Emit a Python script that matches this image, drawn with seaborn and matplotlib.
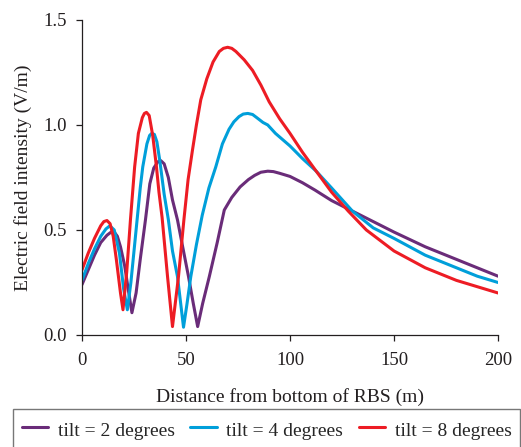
import numpy as np
import pandas as pd
import matplotlib
matplotlib.use("Agg")
import matplotlib.pyplot as plt
import seaborn as sns

# --- data ---
x_tilt2 = [0, 3, 6, 9, 12, 14, 15.5, 17, 18.5, 20.5, 22.5, 24, 26, 28, 30.5, 32.6, 34.5,
           36.5, 37.9, 39.5, 41.5, 43.5, 45.9, 48, 51.2, 53.5, 55.6, 58, 61.2, 65, 68.4,
           72, 76, 80, 83, 86, 89.3, 92, 95, 100, 106, 112, 120, 130, 140, 150, 165, 180,
           190, 200]
y_tilt2 = [0.24, 0.31, 0.38, 0.44, 0.475, 0.49, 0.49, 0.47, 0.42, 0.33, 0.20, 0.106, 0.20,
           0.36, 0.548, 0.72, 0.795, 0.825, 0.83, 0.815, 0.75, 0.643, 0.548, 0.44, 0.278,
           0.15, 0.04, 0.15, 0.278, 0.44, 0.595, 0.655, 0.705, 0.74, 0.76, 0.775, 0.78,
           0.778, 0.77, 0.755, 0.725, 0.69, 0.64, 0.59, 0.54, 0.49, 0.42, 0.36, 0.32, 0.28]

x_tilt4 = [0, 3, 6, 9, 11.5, 13.4, 15.5, 18, 20, 21.8, 23.5, 25, 26.5, 28, 29.2, 31.2,
           32.5, 33.5, 34.8, 36, 37.4, 39.5, 41.5, 43.5, 45.9, 48.8, 50.5, 52.3, 55, 57.8,
           61, 64.3, 67.5, 70.7, 73, 75.5, 77.5, 79.7, 82, 84, 87, 89.3, 93, 100, 106,
           112.6, 120, 130, 140, 150, 165, 180, 190, 200]
y_tilt4 = [0.26, 0.34, 0.41, 0.47, 0.505, 0.52, 0.50, 0.39, 0.22, 0.12, 0.25, 0.40, 0.55,
           0.70, 0.80, 0.91, 0.95, 0.96, 0.955, 0.92, 0.83, 0.67, 0.55, 0.40, 0.278,
           0.037, 0.15, 0.278, 0.43, 0.57, 0.70, 0.80, 0.91, 0.98, 1.015, 1.04, 1.052,
           1.055, 1.05, 1.035, 1.012, 1.00, 0.96, 0.90, 0.84, 0.78, 0.70, 0.59, 0.51,
           0.46, 0.38, 0.32, 0.28, 0.25]

x_tilt8 = [0, 3, 6, 9, 10.5, 12, 13.5, 15, 16.5, 18.5, 19.7, 21.5, 23.3, 25.3, 27.1, 29,
           30, 31, 32.3, 34, 35.8, 37, 38.5, 41.1, 43.5, 46.4, 49, 51, 53.1, 55, 57.1, 60,
           63, 66, 68, 70, 72, 74, 76, 78, 82, 86, 90, 95, 100, 106, 112.6, 120, 128,
           136.7, 150, 165, 180, 190, 200]
y_tilt8 = [0.31, 0.39, 0.46, 0.52, 0.54, 0.545, 0.53, 0.47, 0.36, 0.20, 0.12, 0.30, 0.55,
           0.80, 0.96, 1.035, 1.055, 1.06, 1.045, 0.95, 0.80, 0.68, 0.56, 0.28, 0.04, 0.28,
           0.55, 0.74, 0.88, 1.00, 1.12, 1.22, 1.30, 1.35, 1.365, 1.37, 1.365, 1.35, 1.33,
           1.31, 1.26, 1.19, 1.11, 1.03, 0.96, 0.87, 0.78, 0.68, 0.59, 0.50, 0.40, 0.32,
           0.26, 0.23, 0.20]

labels = ["tilt = 2 degrees", "tilt = 4 degrees", "tilt = 8 degrees"]
colors = ["#6A2C79", "#009FDA", "#ED1C24"]

frames = []
for lab, xs, ys in zip(labels, [x_tilt2, x_tilt4, x_tilt8], [y_tilt2, y_tilt4, y_tilt8]):
    frames.append(pd.DataFrame({"x": xs, "y": ys, "series": lab}))
df = pd.concat(frames, ignore_index=True)

sns.set_style("ticks")
plt.rcParams["font.family"] = ["Liberation Serif", "DejaVu Serif"]

fig = plt.figure(figsize=(5.21, 4.47), dpi=100)
ax = fig.add_axes([0.1574, 0.2506, 0.7985, 0.7047])

sns.lineplot(data=df, x="x", y="y", hue="series", palette=colors, sort=False,
             linewidth=2.2, ax=ax, legend=False)
for ln in ax.get_lines():
    ln.set_solid_joinstyle("round")
    ln.set_solid_capstyle("round")

ax.set_xlim(0, 200)
ax.set_ylim(0, 1.5)
ax.set_xticks([0, 50, 100, 150, 200])
ax.set_yticks([0, 0.5, 1.0, 1.5])
ax.set_yticklabels(["0.0", "0.5", "1.0", "1.5"])
ax.tick_params(axis="both", labelsize=13.5, colors="#231F20", length=4, width=0.9)
ax.tick_params(axis="x", pad=8)
ax.tick_params(axis="y", pad=7)
ax.set_xlabel("Distance from bottom of RBS (m)", fontsize=14, color="#231F20", labelpad=14)
ax.set_ylabel("Electric field intensity (V/m)", fontsize=14, color="#231F20", labelpad=8)
sns.despine(ax=ax)
for s in ["left", "bottom"]:
    ax.spines[s].set_linewidth(0.9)
    ax.spines[s].set_color("#231F20")

# legend box sits below the axes and runs off the bottom edge
handles = [plt.Line2D([], [], color=c, linewidth=2.2) for c in colors]
leg = fig.legend(handles, labels, loc="upper left", bbox_to_anchor=(13 / 521, 1 - 409 / 447),
                 ncol=3, frameon=True, fancybox=False, fontsize=14, handlelength=1.35,
                 handleheight=1.5, handletextpad=0.5, columnspacing=0.8, borderpad=0.45,
                 borderaxespad=0)
leg.get_frame().set_edgecolor("#555555")
leg.get_frame().set_linewidth(1.0)

fig.savefig("out.png", dpi=100)
